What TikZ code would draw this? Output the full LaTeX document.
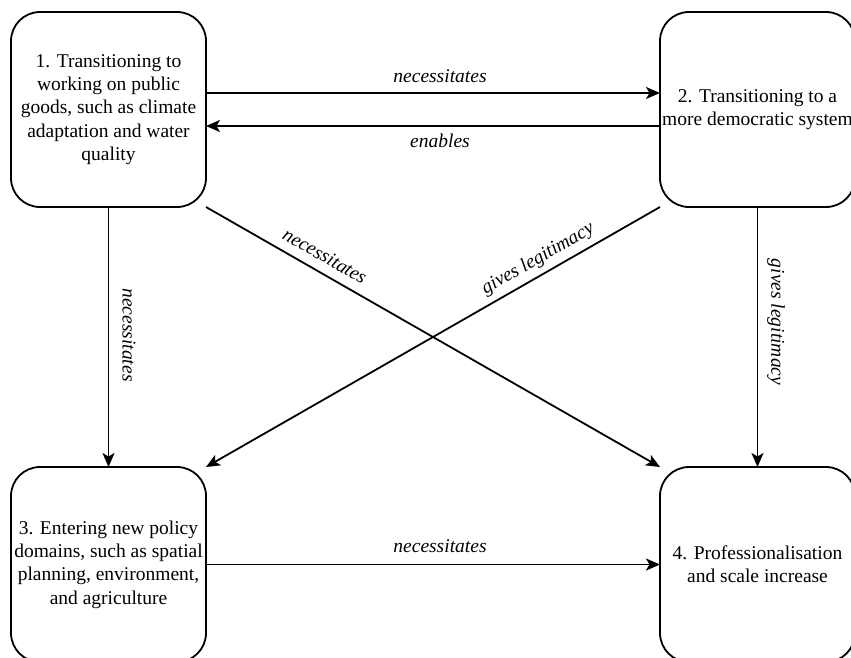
\documentclass[tikz,border=0pt]{standalone}
\usepackage{fontspec}
\setmainfont{LiberationSerif-Regular.ttf}[ItalicFont=LiberationSerif-Italic.ttf,BoldFont=LiberationSerif-Bold.ttf]
\usetikzlibrary{arrows.meta}
\tikzset{
  box/.style={draw, line width=1.8pt, rounded corners=29pt, minimum width=195pt, minimum height=195pt,
    inner sep=0pt, outer sep=0pt, align=center, font=\fontsize{19.5}{23.4}\selectfont},
  conn/.style={line width=1.8pt, -{Stealth[length=14pt,width=12pt,inset=3.5pt]}},
  lbl/.style={font=\fontsize{19.5}{23.4}\selectfont\itshape, inner sep=0pt}
}
\begin{document}
\begin{tikzpicture}[x=1pt,y=-1pt]
\useasboundingbox (0,0) rectangle (851,657);
\clip (0,0) rectangle (851,657);
\node[box] (n1) at (108.5,109.5) {1. Transitioning to\\working on public\\goods, such as climate\\adaptation and water\\quality};
\node[box] (n2) at (757.5,109.5) {2. Transitioning to a\\more democratic system};
\node[box] (n3) at (108.5,564.5) {3. Entering new policy\\domains, such as spatial\\planning, environment,\\and agriculture};
\node[box] (n4) at (757.5,564.5) {4. Professionalisation\\and scale increase};

\draw[conn] ([yshift=16.5pt]n1.east) -- ([yshift=16.5pt]n2.west);
\draw[conn] ([yshift=-16.5pt]n2.west) -- ([yshift=-16.5pt]n1.east);
\draw[conn] (n1.south) -- (n3.north);
\draw[conn] (n2.south) -- (n4.north);
\draw[conn] (n1.south east) -- (n4.north west);
\draw[conn] (n2.south west) -- (n3.north east);
\draw[conn] (n3.east) -- (n4.west);

\node[lbl] (l12) at (440,76) {necessitates};
\node[lbl] (l21) at (440,141) {enables};
\node[lbl] (l34) at (440,546) {necessitates};
\node[lbl, rotate=-90] (l13) at (129,335) {necessitates};
\node[lbl, rotate=-90] (l24) at (776,322) {gives legitimacy};
\node[lbl, rotate=-29.8] (l14) at (325,256) {necessitates};
\node[lbl, rotate=29.8] (l23) at (538,259) {gives legitimacy};
\end{tikzpicture}
\end{document}
